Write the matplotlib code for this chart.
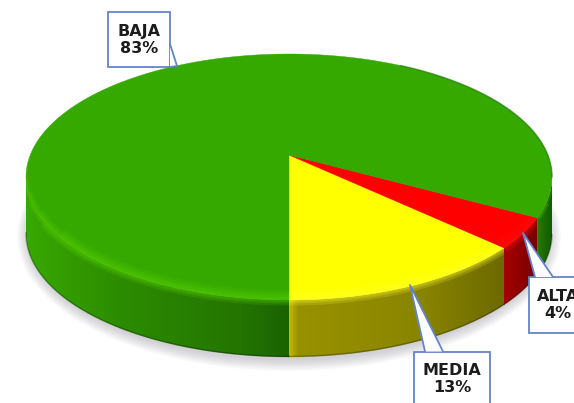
import numpy as np
import matplotlib
matplotlib.use('Agg')
import matplotlib.pyplot as plt
from matplotlib.colors import to_rgb
from matplotlib.patches import Polygon

# chart data
CATEGORIES = ['MEDIA', 'ALTA', 'BAJA']
VALUES = [13, 4, 83]
TOP_COLORS = ['#ffff00', '#ff0000', '#35a900']
RIM_COLORS = ['#ffff30', '#ff1010', '#5ad400']
# side shading, (x pixel, colour) stops for each slice
SIDE_STOPS = [
    [(289, '#c4bc00'), (298, '#989200'), (420, '#8a8500'), (503, '#6e6a00')],
    [(503, '#a80000'), (537, '#780000')],
    [(26, '#38a800'), (120, '#2c8c00'), (240, '#247400'), (289, '#1a6300'),
     (290, '#1a6300'), (535, '#2a8000'), (553, '#0f5a00')],
]

# label boxes: left, top, right, bottom and the tail
BOXES = {
    'BAJA': ((107.5, 12, 170, 67), [(170, 44), (177, 66), (170, 67)]),
    'ALTA': ((529, 277, 580, 333), [(535, 277), (523, 233), (553, 277)]),
    'MEDIA': ((414, 351.5, 490, 410), [(425, 351.5), (410, 285), (443, 351.5)]),
}
TEXT_POS = {'BAJA': (139, 40), 'ALTA': (558, 305), 'MEDIA': (452, 379)}

# pie geometry in pixels
CX, CY = 289, 177
RX, RY = 263, 123
DEPTH = 57
PERSP = 0.179  # apex sits above the middle of the ellipse


def project(deg):
    """disc angle to point on the drawn ellipse (perspective)"""
    a = np.radians(deg)
    u, v = np.cos(a), np.sin(a)
    d = 1 + PERSP * v
    x = u * np.sqrt(1 - PERSP ** 2) / d
    y = (v + PERSP) / d
    return CX + RX * x, CY - RY * y


def gradient(stops):
    xs = np.arange(0, 575)
    sx = [s[0] for s in stops]
    rgb = np.array([to_rgb(s[1]) for s in stops])
    row = np.stack([np.interp(xs, sx, rgb[:, i]) for i in range(3)], axis=1)
    return row[np.newaxis, :, :]


fig = plt.figure(figsize=(5.74, 4.03), dpi=100)
ax = fig.add_axes([0, 0, 1, 1])
ax.set_xlim(0, 574)
ax.set_ylim(403, 0)
ax.axis('off')

# soft shadow under the disc
for k in range(10):
    grow = 12 - k * 1.2
    t = np.linspace(0, 2 * np.pi, 200)
    ax.fill(CX + (RX + grow - 3) * np.cos(t), CY + DEPTH + 2 + (RY + grow) * np.sin(t),
            color='#808090', alpha=0.04, lw=0, zorder=1)

edges = -90 + np.cumsum([0] + VALUES) * 3.6
apex = (CX, CY - RY * PERSP)

for i, name in enumerate(CATEGORIES):
    a0, a1 = edges[i], edges[i + 1]
    angs = np.linspace(a0, a1, 300)
    x, y = project(angs)

    # side wall, only the part facing the viewer
    front = y >= CY - 1
    fx, fy = x[front], y[front]
    if name == 'BAJA':
        # wraps round the back, so split in right and left parts
        right = fx > CX
        parts = [(fx[right], fy[right]), (fx[~right], fy[~right])]
    else:
        parts = [(fx, fy)]
    for px, py in parts:
        poly = np.column_stack([np.r_[px, px[::-1]], np.r_[py, py[::-1] + DEPTH]])
        patch = Polygon(poly, closed=True, fc='none', ec='none', zorder=2)
        ax.add_patch(patch)
        im = ax.imshow(gradient(SIDE_STOPS[i]), extent=(0, 574, 403, 0), aspect='auto', zorder=2)
        im.set_clip_path(patch)
        # dark lower edge of the wall
        ax.plot(px, py + DEPTH - 0.5, color='black', alpha=0.25, lw=1.2, zorder=3)
        # light bevel at the top of the wall, only on the lower part
        for lw, low in zip([8, 5, 3], [45, 25, 10]):
            keep = py >= CY + low
            ln, = ax.plot(px[keep], py[keep], color=RIM_COLORS[i], alpha=0.18, lw=lw, zorder=3,
                          solid_capstyle='butt')
            ln.set_clip_path(patch)

    # top face
    top = Polygon(np.column_stack([np.r_[apex[0], x], np.r_[apex[1], y]]), closed=True,
                  fc=TOP_COLORS[i], ec=TOP_COLORS[i], lw=0.3, zorder=4)
    ax.add_patch(top)
    # rim gets thinner going up the sides
    for lw, low in zip([14, 10, 7, 4, 2], [60, 35, 15, 0, -20]):
        keep = (y >= CY + low) & ((x < CX) | (name != 'BAJA'))
        ln, = ax.plot(x[keep], y[keep], color=RIM_COLORS[i], alpha=0.16, lw=lw, zorder=4,
                      solid_capstyle='butt')
        ln.set_clip_path(top)

# darker edge at the back right of the disc
t = np.linspace(-10, 60, 80)
bx, by = project(t)
ax.plot(bx, by, color='#1f7000', alpha=0.5, lw=1.2, zorder=4)

# label boxes
for i, name in enumerate(CATEGORIES):
    (l, t_, r, b), tail = BOXES[name]
    ax.fill([l, r, r, l], [t_, t_, b, b], fc='white', ec='#6584c8', lw=1.3, zorder=6)
    ax.fill([p[0] for p in tail], [p[1] for p in tail], fc='white', ec='none', zorder=6)
    ax.plot([tail[0][0], tail[1][0], tail[2][0]], [tail[0][1], tail[1][1], tail[2][1]],
            color='#6584c8', lw=1.3, zorder=7)
    tx, ty = TEXT_POS[name]
    ax.text(tx, ty, f'{name}\n{VALUES[i]}%', ha='center', va='center', fontsize=11.5,
            fontweight='bold', family=['DejaVu Sans'], color='#1c1c1c',
            linespacing=1.1, zorder=8)

fig.savefig('out.png', dpi=100)
